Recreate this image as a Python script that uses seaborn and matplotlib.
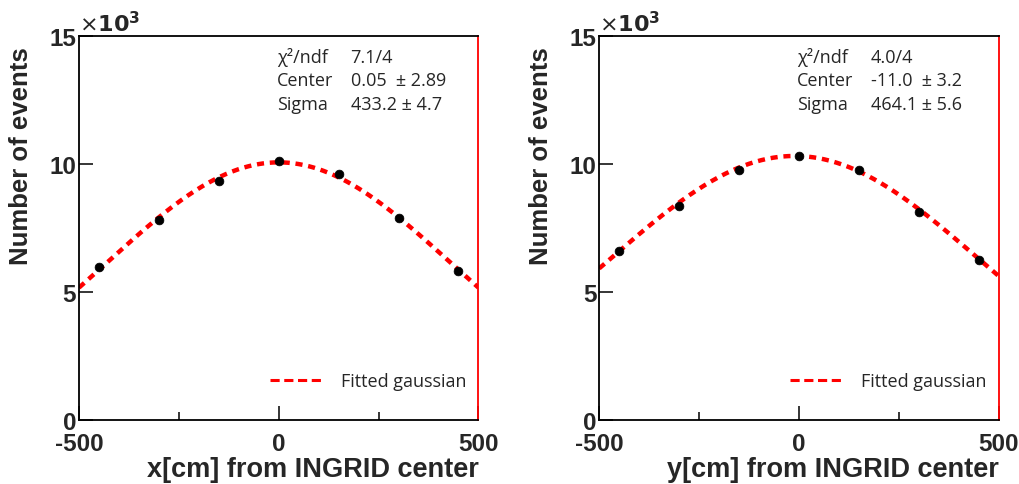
import numpy as np
import pandas as pd
import seaborn as sns
import matplotlib.pyplot as plt
from matplotlib.lines import Line2D
from matplotlib.ticker import FuncFormatter, MultipleLocator

# measured beam profile points (events per position)
positions = [-450, -300, -150, 0, 150, 300, 450]
events_x = [5960, 7820, 9340, 10120, 9610, 7870, 5830]
events_y = [6610, 8350, 9760, 10300, 9770, 8130, 6240]

# fit results shown in the boxes
fit_x = {'chi2': '7.1/4', 'center': 0.05, 'center_err': '2.89', 'sigma': 433.2, 'sigma_err': '4.7', 'amp': 10060}
fit_y = {'chi2': '4.0/4', 'center': -11.0, 'center_err': '3.2', 'sigma': 464.1, 'sigma_err': '5.6', 'amp': 10310}

sns.set_style("ticks")
plt.rcParams['font.family'] = ['Liberation Sans', 'DejaVu Sans']

fig = plt.figure(figsize=(10.19, 4.85), dpi=100)
ax1 = fig.add_axes([0.0775, 0.132, 0.392, 0.792])
ax2 = fig.add_axes([0.588, 0.132, 0.392, 0.792])

panels = [
    (ax1, events_x, fit_x, 'x[cm] from INGRID center', '0.05'),
    (ax2, events_y, fit_y, 'y[cm] from INGRID center', '-11.0'),
]

for ax, events, fit, xlabel, center_txt in panels:
    xs = np.linspace(-500, 500, 400)
    curve = fit['amp'] * np.exp(-0.5 * ((xs - fit['center']) / fit['sigma']) ** 2)
    sns.lineplot(x=xs, y=curve, ax=ax, color='red', lw=3.2, linestyle=(0, (1.6, 1.3)))
    sns.scatterplot(x=positions, y=events, ax=ax, color='black', s=40, edgecolor='black', zorder=3)

    ax.set_xlim(-500, 500)
    ax.set_ylim(0, 15000)
    ax.xaxis.set_major_locator(MultipleLocator(500))
    ax.xaxis.set_minor_locator(MultipleLocator(250))
    ax.xaxis.set_major_formatter(FuncFormatter(lambda v, p: f"{v:.0f}"))
    ax.yaxis.set_major_locator(MultipleLocator(5000))
    ax.yaxis.set_major_formatter(FuncFormatter(lambda v, p: f"{v/1000:.0f}"))
    ax.tick_params(axis='both', which='major', direction='in', length=10, width=1.3,
                   labelsize=17.5, pad=2)
    ax.tick_params(axis='x', which='major', pad=8.5)
    ax.tick_params(axis='both', which='minor', direction='in', length=6, width=1.3)
    for lab in ax.get_xticklabels() + ax.get_yticklabels():
        lab.set_fontweight('bold')
    for s in ax.spines.values():
        s.set_linewidth(1.3)
        s.set_color('black')
    ax.spines['right'].set_color('red')
    ax.set_xlabel(xlabel, fontsize=19.5, fontweight='bold', loc='right', labelpad=1)
    ax.set_ylabel('Number of events', fontsize=18.5, fontweight='bold')
    ax.yaxis.set_label_coords(-0.115, 0.69)
    ax.text(0.0, 1.0, r'$\times\mathbf{10^3}$', transform=ax.transAxes, fontsize=16,
            ha='left', va='bottom')

    box = [('χ²/ndf', fit['chi2']),
           ('Center', f"{center_txt}  ± {fit['center_err']}"),
           ('Sigma', f"{fit['sigma']:.1f} ± {fit['sigma_err']}")]
    for i, (name, val) in enumerate(box):
        ax.text(0.495, 0.945 - i * 0.061, name, transform=ax.transAxes, fontsize=13,
                family=['Open Sans', 'DejaVu Sans'], va='center')
        ax.text(0.68, 0.945 - i * 0.061, val, transform=ax.transAxes, fontsize=13,
                family=['Open Sans', 'DejaVu Sans'], va='center')

    handle = Line2D([], [], color='red', lw=2.2, linestyle=(0, (3, 1.5)))
    ax.legend([handle], ['Fitted gaussian'], loc='lower right', bbox_to_anchor=(1.01, 0.035),
              frameon=False, handlelength=3.0, handletextpad=0.9,
              prop={'family': 'Open Sans', 'size': 13})

fig.savefig('out.png', dpi=100)
